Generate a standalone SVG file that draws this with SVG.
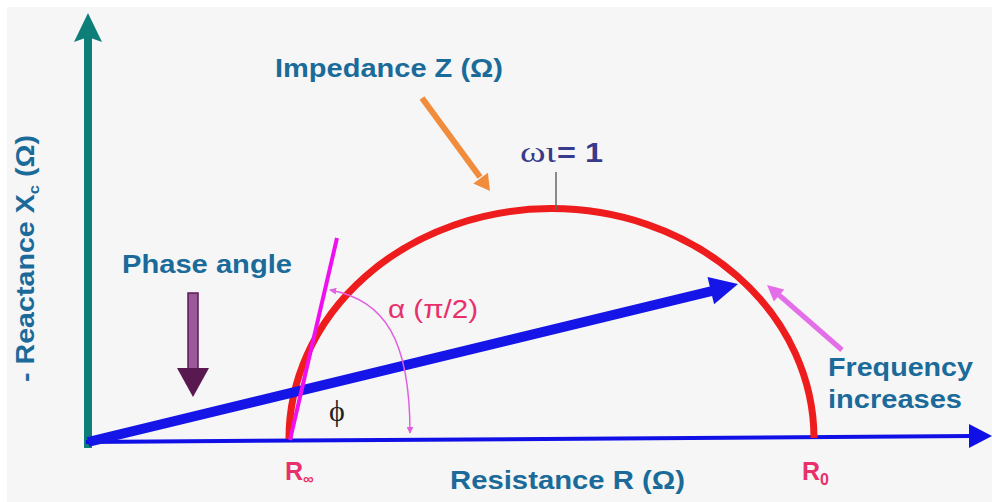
<svg xmlns="http://www.w3.org/2000/svg" width="992" height="502" viewBox="0 0 992 502">
<defs>
<style>
.lbl{font-family:"Liberation Sans",Arial,sans-serif;font-weight:bold;fill:#1a6b9a;font-size:26px}
.pink{font-family:"Liberation Sans",Arial,sans-serif;fill:#e8306a}
.serif{font-family:"Liberation Serif","Times New Roman",serif}
</style>
<marker id="thin" viewBox="0 0 10 10" refX="9" refY="5" markerWidth="7" markerHeight="7" markerUnits="userSpaceOnUse" orient="auto-start-reverse">
<path d="M0,0 L10,5 L0,10 z" fill="#e060e0"/>
</marker>
</defs>
<rect x="0" y="0" width="992" height="502" fill="#ffffff"/>
<rect x="7" y="7" width="985" height="495" fill="#f6f6f6"/>

<g id="connectors">
  <g id="y-axis">
    <line x1="88" y1="448" x2="88" y2="36" stroke="#0e7f78" stroke-width="8"/>
    <polygon points="88,13 102,42 88,37 74,42" fill="#0e7f78"/>
  </g>
  <g id="x-axis">
    <line x1="86" y1="442" x2="972" y2="436" stroke="#1010e6" stroke-width="4"/>
    <polygon points="992,436 969,424 969,448" fill="#1010e6"/>
  </g>
  <g id="impedance-arc">
    <path d="M289,439 A262.5,230 0 0 1 814,438" fill="none" stroke="#ee1c1c" stroke-width="7"/>
  </g>
  <g id="phase-vector">
    <line x1="88" y1="442" x2="712" y2="291" stroke="#1515e8" stroke-width="10"/>
    <polygon points="738,284 707.5,277 714.1,304.2" fill="#1515e8"/>
  </g>
  <g id="tangent">
    <line x1="290" y1="440" x2="337" y2="238" stroke="#ee10ee" stroke-width="4"/>
  </g>
  <g id="alpha-arc">
    <path d="M330,290 C385,300 410,340 410,433" fill="none" stroke="#e060e0" stroke-width="1.5" marker-start="url(#thin)" marker-end="url(#thin)"/>
  </g>
  <g id="impedance-pointer">
    <line x1="422" y1="98" x2="480" y2="177" stroke="#f08c3c" stroke-width="6"/>
    <polygon points="490,191 473.3,183.4 487.9,172.8" fill="#f08c3c"/>
  </g>
  <g id="frequency-pointer">
    <line x1="842" y1="350" x2="779" y2="295" stroke="#e46ee8" stroke-width="5"/>
    <polygon points="767,285 784.3,289.5 773.9,301.5" fill="#e46ee8"/>
  </g>
  <g id="phase-pointer">
    <rect x="188" y="293" width="10" height="76" fill="#9a5a9a" stroke="#5a1a5a" stroke-width="1.5"/>
    <polygon points="177,368 209,368 193,397" fill="#5a1850"/>
  </g>
  <g id="omega-tick">
    <line x1="556" y1="172" x2="556" y2="210" stroke="#666666" stroke-width="1.5"/>
  </g>
</g>

<g id="label-impedance"><text class="lbl" x="275" y="77" textLength="228" lengthAdjust="spacingAndGlyphs">Impedance Z (Ω)</text></g>
<g id="label-omega">
  <text class="serif" x="520" y="162" font-size="30" fill="#3a3a8a" textLength="36" lengthAdjust="spacingAndGlyphs">ωι</text>
  <text x="557" y="162" font-family="Liberation Sans, Arial, sans-serif" font-weight="bold" font-size="28" fill="#3a3a8a" textLength="46" lengthAdjust="spacingAndGlyphs">= 1</text>
</g>
<g id="label-phase"><text class="lbl" x="122" y="273" textLength="170" lengthAdjust="spacingAndGlyphs">Phase angle</text></g>
<g id="label-alpha"><text class="pink" x="388" y="318" font-size="25" textLength="90" lengthAdjust="spacingAndGlyphs">α (π/2)</text></g>
<g id="label-phi"><text class="serif" x="329" y="421" font-size="30" fill="#222222">ϕ</text></g>
<g id="label-rinf"><text class="pink" x="285" y="480" font-size="25" font-weight="bold">R<tspan font-size="15" dy="4">∞</tspan></text></g>
<g id="label-r0"><text class="pink" x="802" y="480" font-size="25" font-weight="bold">R<tspan font-size="16" dy="5">0</tspan></text></g>
<g id="label-resistance"><text class="lbl" x="450" y="489" textLength="235" lengthAdjust="spacingAndGlyphs">Resistance R (Ω)</text></g>
<g id="label-frequency">
  <text class="lbl" x="828" y="376" textLength="145" lengthAdjust="spacingAndGlyphs">Frequency</text>
  <text class="lbl" x="828" y="408" textLength="134" lengthAdjust="spacingAndGlyphs">increases</text>
</g>
<g id="label-reactance">
  <text class="lbl" transform="translate(34,382) rotate(-90)" x="0" y="0" textLength="247" lengthAdjust="spacingAndGlyphs">- Reactance X<tspan font-size="15" dy="5">c</tspan><tspan dy="-5"> (Ω)</tspan></text>
</g>
</svg>
